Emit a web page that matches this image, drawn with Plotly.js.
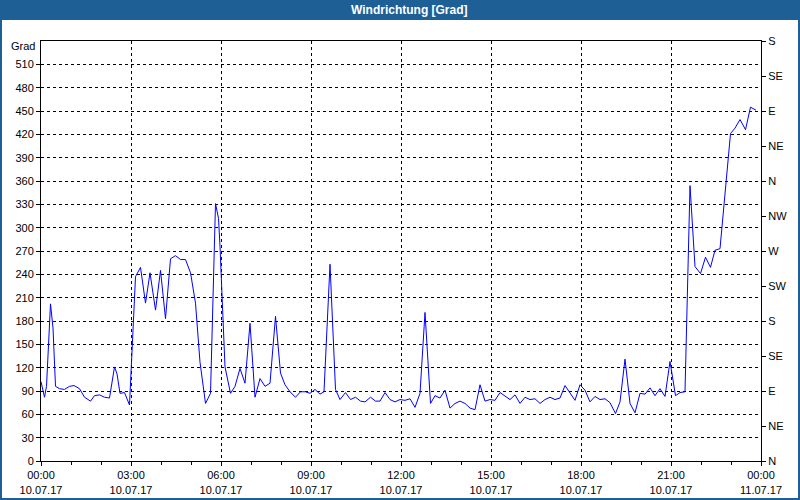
<!DOCTYPE html>
<html>
<head>
<meta charset="utf-8">
<script src="https://cdn.plot.ly/plotly-3.0.1.min.js"></script>
<style>html,body{margin:0;padding:0;background:#fff;}#chart{width:800px;height:500px;}</style>
</head>
<body>
<div id="chart"></div>
<script>
// Minutes after 10.07.17 00:00
var minutes = [0,7,11,19,24,29,37,47,57,66,
  77,87,99,107,117,127,137,147,152,158,
  167,177,189,199,209,218,229,239,249,259,
  269,279,289,299,309,318,329,339,349,355,
  358,368,379,388,398,408,418,428,438,448,
  458,469,479,488,498,509,519,529,538,548,
  558,566,578,589,598,609,619,629,639,648,
  659,669,678,688,698,708,718,728,738,748,
  758,768,779,788,798,808,818,828,838,848,
  858,868,878,888,898,908,918,928,938,948,
  958,968,978,988,998,1008,1018,1028,1038,1048,
  1058,1068,1078,1088,1098,1108,1118,1128,1138,1149,
  1158,1168,1178,1188,1198,1208,1218,1228,1238,1248,
  1258,1269,1278,1288,1298,1308,1319,1329,1339,1348,
  1358,1379,1388,1398,1409,1419,1430];
// Wind direction in degrees
var direction = [102,82,96,202,171,96,93,92,96,97,
  93,82,77,84,85,82,81,121,112,87,
  88,72,237,249,203,242,194,245,183,260,
  264,259,259,242,203,127,74,87,331,312,
  276,121,87,96,119,100,177,82,106,96,
  100,186,113,98,89,82,89,89,87,92,
  86,89,253,92,79,88,79,82,77,76,
  82,77,77,88,79,76,79,78,80,69,
  87,191,74,84,81,91,68,74,77,74,
  68,66,98,77,79,78,88,84,79,85,
  74,82,79,80,74,79,82,79,81,97,
  87,78,98,91,76,83,79,80,75,61,
  76,131,74,62,87,86,94,84,93,83,
  128,84,88,89,354,250,241,262,249,271,
  273,421,428,439,426,455,451];
var leftTicks = [0,30,60,90,120,150,180,210,240,270,300,330,360,390,420,450,480,510];
var compassVals = [0,45,90,135,180,225,270,315,360,405,450,495,540];
var compassText = ['N','NE','E','SE','S','SW','W','NW','N','NE','E','SE','S'];
var titleText = 'Windrichtung [Grad]';
var unitText = 'Grad';

function pad(n){return (n<10?'0':'')+n;}
var times = minutes.map(function(m){
  return '2017-07-10 ' + pad(Math.floor(m/60)) + ':' + pad(m%60);
});

var W = 800, H = 500, L = 41, R = 39, T = 41, B = 39;
var pw = W - L - R, ph = H - T - B;
function px(x){return (x - L)/pw;}
function py(y){return (H - B - y)/ph;}

var font = {family:'Liberation Sans, Arial, sans-serif', size:11, color:'#000'};
var blue = '#1e6096';

var data = [{
  x: times, y: direction, type:'scatter', mode:'lines',
  line:{color:'#0000ff', width:1}, hoverinfo:'skip'
},{
  x: [times[0]], y:[0], yaxis:'y2', type:'scatter', mode:'markers',
  marker:{opacity:0}, hoverinfo:'skip', showlegend:false
}];

var layout = {
  width:W, height:H,
  margin:{l:L, r:R, t:T, b:B, pad:0},
  paper_bgcolor:'#fff', plot_bgcolor:'#fff',
  showlegend:false,
  font: font,
  xaxis:{
    type:'date',
    range:['2017-07-10 00:00','2017-07-11 00:00'],
    tick0:'2017-07-10 00:00', dtick:3*3600000,
    tickformat:'%H:%M<br>%d.%m.%y',
    ticks:'outside', ticklen:4, tickcolor:'#000',
    showline:true, linecolor:'#000', linewidth:1, mirror:true,
    showgrid:true, gridcolor:'#000', gridwidth:1, griddash:'3px,3px',
    zeroline:false, tickfont:font,
    minor:{dtick:3600000, tick0:'2017-07-10 00:00', ticks:'outside', ticklen:3, tickcolor:'#000', showgrid:false}
  },
  yaxis:{
    range:[0,540], tickmode:'array', tickvals:leftTicks,
    ticks:'outside', ticklen:4, tickcolor:'#000',
    showline:true, linecolor:'#000', linewidth:1,
    showgrid:true, gridcolor:'#000', gridwidth:1, griddash:'3px,3px',
    zeroline:false, tickfont:font, fixedrange:true
  },
  yaxis2:{
    overlaying:'y', side:'right', range:[0,540],
    tickmode:'array', tickvals:compassVals, ticktext:compassText,
    ticks:'outside', ticklen:4, tickcolor:'#000',
    showline:true, linecolor:'#000', linewidth:1,
    showgrid:false, zeroline:false, tickfont:font
  },
  shapes:[
    {type:'rect', xref:'paper', yref:'paper', x0:px(0), x1:px(800), y0:py(20), y1:py(0),
     fillcolor:blue, line:{width:0}, layer:'above'},
    {type:'rect', xref:'paper', yref:'paper', x0:px(1), x1:px(799), y0:py(499), y1:py(1),
     fillcolor:'rgba(0,0,0,0)', line:{color:blue, width:2}, layer:'above'}
  ],
  annotations:[
    {text:titleText, xref:'paper', yref:'paper', x:px(410), y:py(10),
     xanchor:'center', yanchor:'middle', showarrow:false,
     font:{family:'Liberation Sans, Arial, sans-serif', size:12, color:'#fff', weight:'bold'}},
    {text:unitText, xref:'paper', yref:'paper', x:px(37), y:py(46),
     xanchor:'right', yanchor:'middle', showarrow:false, font:font}
  ]
};

Plotly.newPlot('chart', data, layout, {staticPlot:true, displayModeBar:false});
</script>
</body>
</html>
